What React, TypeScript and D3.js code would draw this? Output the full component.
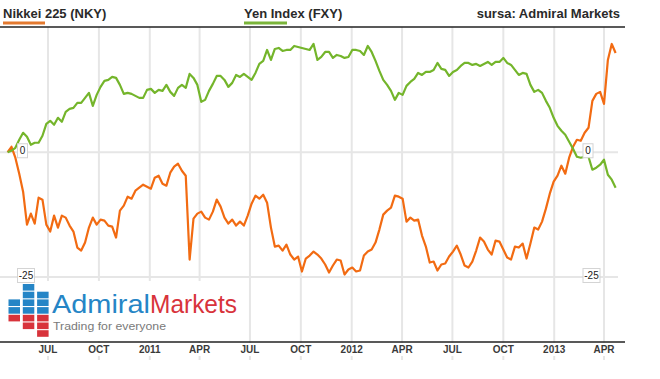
import React from 'react';
import * as d3 from 'd3';

// Weekly closes, % change from start (first week = 2010-04-19)
const START_DATE = '2010-04-19';

const nikkeiValues = [
  0, 1.1, -1.1, -4.3, -7.9, -14.5, -12.3, -14.3, -9.1, -9.5,
  -14.5, -15.9, -12.7, -15.1, -12.7, -13.1, -14.7, -15.9, -19.1, -19.7,
  -18.1, -15.1, -13.1, -14.5, -13.5, -13.7, -14.7, -14.9, -17.1, -11.7,
  -10.7, -8.9, -9.3, -7.7, -7.1, -6.5, -6.9, -7.3, -5.1, -4.7,
  -6.3, -6.7, -4.1, -2.9, -2.3, -3.7, -4.7, -21.5, -13.3, -12.3,
  -11.9, -13.1, -13.5, -11.9, -9.5, -10.9, -13.1, -14.3, -13.5, -14.7,
  -13.9, -14.7, -12.7, -10.3, -8.7, -9.3, -8.5, -10.1, -15.1, -18.9,
  -18.7, -19.7, -18.5, -20.5, -21.5, -20.9, -23.9, -21.3, -20.7, -19.9,
  -20.5, -21.3, -22.5, -24.1, -22.7, -21.5, -21.7, -24.5, -23.5, -23.1,
  -23.9, -23.7, -20.7, -19.9, -19.5, -18.1, -15.5, -12.5, -11.7, -11.1,
  -8.7, -8.9, -9.3, -13.9, -13.1, -13.7, -13.5, -16.7, -18.9, -22.1,
  -21.9, -23.7, -22.5, -22.3, -20.9, -19.9, -18.7, -20.5, -22.7, -23.1,
  -21.9, -19.7, -17.1, -17.9, -19.5, -20.5, -17.7, -17.9, -19.5, -21.1,
  -21.5, -18.9, -19.1, -18.3, -21.3, -18.3, -15.1, -15.5, -13.9, -11.3,
  -8.3, -5.9, -4.7, -2.7, -4.3, -1.1, 1.1, 2.5, 2.3, 3.9,
  4.9, 10.3, 11.7, 12.1, 9.7, 18.5, 21.7, 19.9,
];

const yenValues = [
  0, 0.3, 0.9, 2.5, 3.9, 3.1, 1.5, 1.9, 1.9, 3.3,
  5.7, 6.3, 5.5, 6.9, 6.1, 8.1, 8.7, 8.9, 9.9, 9.9,
  10.9, 11.9, 9.3, 11.5, 13.1, 14.3, 14.5, 15.1, 14.9, 13.5,
  11.7, 11.9, 11.7, 11.3, 10.9, 10.9, 12.5, 12.7, 11.9, 12.5,
  12.3, 13.5, 12.1, 11.3, 12.9, 13.5, 12.9, 15.7, 14.9, 13.5,
  10.1, 10.5, 12.3, 13.7, 15.3, 15.3, 14.5, 13.1, 13.9, 15.5,
  15.1, 15.7, 15.1, 14.5, 15.9, 17.7, 18.3, 20.5, 18.5, 20.7,
  20.9, 20.3, 20.5, 20.5, 21.3, 21.1, 20.9, 20.7, 20.5, 21.7,
  18.5, 19.1, 20.1, 20.1, 18.9, 19.5, 19.3, 18.9, 19.1, 20.5,
  20.5, 20.3, 19.5, 21.3, 20.1, 18.3, 16.3, 14.5, 13.5, 12.3,
  10.5, 11.9, 11.5, 13.3, 14.1, 14.7, 15.9, 15.5, 16.1, 16.1,
  16.5, 17.9, 16.7, 16.5, 15.3, 16.1, 16.5, 17.3, 17.9, 17.9,
  17.5, 17.7, 17.3, 17.7, 18.1, 17.5, 18.1, 18.1, 18.9, 17.9,
  17.5, 16.5, 15.5, 15.9, 15.7, 13.5, 12.1, 12.5, 11.9, 10.3,
  8.9, 6.9, 5.3, 4.3, 3.5, 2.1, 0.7, -0.9, -1.1, -0.9,
  -0.9, -3.5, -3.1, -2.5, -1.5, -4.5, -5.5, -7.1,
];

const tickDates = [
  '2010-07-01', '2010-10-01', '2011-01-01', '2011-04-01', '2011-07-01', '2011-10-01',
  '2012-01-01', '2012-04-01', '2012-07-01', '2012-10-01', '2013-01-01', '2013-04-01',
];
const tickLabels = ['JUL', 'OCT', '2011', 'APR', 'JUL', 'OCT', '2012', 'APR', 'JUL', 'OCT', '2013', 'APR'];
const gridValues = [0, -25];
const gridLabels = ['0', '-25'];
const seriesNames = ['Nikkei 225 (NKY)', 'Yen Index (FXY)'];
const seriesColors = ['#f26b12', '#74b52b'];
const sourceText = 'sursa: Admiral Markets';

const FONT = 'Liberation Sans, Arial, Helvetica, sans-serif';

export default function App() {
  const W = 660;
  const H = 379;
  const parse = d3.utcParse('%Y-%m-%d');
  const x = d3.scaleUtc()
    .domain([parse('2010-07-01') as Date, parse('2013-04-01') as Date])
    .range([48, 604]);
  const y = d3.scaleLinear().domain([-25, 25]).range([277, 27.5]);
  const axisY = 342;
  const start = parse(START_DATE) as Date;
  const dates = nikkeiValues.map((_, i) => d3.utcDay.offset(start, i * 7));

  const line = d3.line<number>()
    .x((_, i) => x(dates[i]))
    .y((v) => y(v));

  const ticks = tickDates.map((d) => x(parse(d) as Date));

  const logoBlue = '#2585c6';
  const logoRed = '#d8333b';
  const cells: [number, number, string][] = [
    [1, 0, logoBlue],
    [1, 1, logoBlue], [2, 1, logoBlue],
    [0, 2, logoBlue], [1, 2, logoBlue], [2, 2, logoBlue],
    [0, 3, logoBlue], [1, 3, logoBlue], [2, 3, logoBlue],
    [0, 4, logoRed], [1, 4, logoRed], [2, 4, logoRed],
    [1, 5, logoRed], [2, 5, logoRed],
    [2, 6, logoRed],
  ];

  return (
    <svg
      width={W}
      height={H}
      style={{ position: 'absolute', left: 0, top: 0, display: 'block', background: '#fff' }}
      fontFamily={FONT}
    >
      <rect x={0} y={0} width={W} height={H} fill="#fff" />
      {ticks.map((tx, i) => (
        <line key={'vg' + i} x1={tx} x2={tx} y1={27} y2={360} stroke="#e6e6e6" strokeWidth={2} />
      ))}
      {gridValues.map((v, i) => (
        <line key={'hg' + i} x1={0} x2={618} y1={y(v)} y2={y(v)} stroke="#e6e6e6" strokeWidth={2} />
      ))}
      <rect x={0} y={281} width={246} height={60} fill="#fff" />
      <path d={line(nikkeiValues) || ''} fill="none" stroke={seriesColors[0]} strokeWidth={2.2} strokeLinejoin="round" />
      <path d={line(yenValues) || ''} fill="none" stroke={seriesColors[1]} strokeWidth={2.2} strokeLinejoin="round" />
      <line x1={0} x2={625} y1={27} y2={27} stroke="#222" strokeWidth={1.5} />
      <line x1={0} x2={625} y1={axisY} y2={axisY} stroke="#222" strokeWidth={1.5} />
      {ticks.map((tx, i) => (
        <g key={'tl' + i}>
          <rect x={tx - 16} y={343} width={32} height={13} fill="#fff" />
          <text x={tx} y={352.5} textAnchor="middle" fontSize={10} fontWeight="bold" fill="#3a3a3a">
            {tickLabels[i]}
          </text>
        </g>
      ))}
      {gridValues.map((v, i) => {
        const w = gridLabels[i].length > 1 ? 17 : 10;
        const yy = y(v) - 1.5;
        return (
          <g key={'gl' + i}>
            <rect x={17.5} y={yy - 7} width={w} height={14} fill="#fff" stroke="#d4d4d4" strokeWidth={1} />
            <text x={17.5 + w / 2} y={yy + 3.5} textAnchor="middle" fontSize={10} fill="#222">{gridLabels[i]}</text>
            <rect x={583} y={yy - 7} width={w} height={14} fill="#fff" stroke="#d4d4d4" strokeWidth={1} />
            <text x={583 + w / 2} y={yy + 3.5} textAnchor="middle" fontSize={10} fill="#222">{gridLabels[i]}</text>
          </g>
        );
      })}
      <text x={3} y={18} fontSize={13} fontWeight="bold" fill="#2a2a2a">{seriesNames[0]}</text>
      <rect x={3} y={21.5} width={42} height={3} fill="#e3792f" />
      <text x={244} y={18} fontSize={13} fontWeight="bold" fill="#2a2a2a">{seriesNames[1]}</text>
      <rect x={244} y={21.5} width={43} height={3} fill="#7bb53a" />
      <text x={620} y={18} textAnchor="end" fontSize={13} fontWeight="bold" fill="#2a2a2a">{sourceText}</text>
      {cells.map(([c, r, col], i) => (
        <rect key={'lc' + i} x={8.5 + c * 14.3} y={284 + r * 7.7} width={11.5} height={6.6} fill={col} />
      ))}
      <text x={52} y={312.5} fontSize={25} fill={logoBlue} textLength={98} lengthAdjust="spacingAndGlyphs">Admiral</text>
      <text x={150} y={312.5} fontSize={25} fill={logoRed} textLength={87} lengthAdjust="spacingAndGlyphs">Markets</text>
      <text x={53} y={330} fontSize={11.5} fill="#7a7a7a" textLength={113} lengthAdjust="spacingAndGlyphs">Trading for everyone</text>
    </svg>
  );
}
